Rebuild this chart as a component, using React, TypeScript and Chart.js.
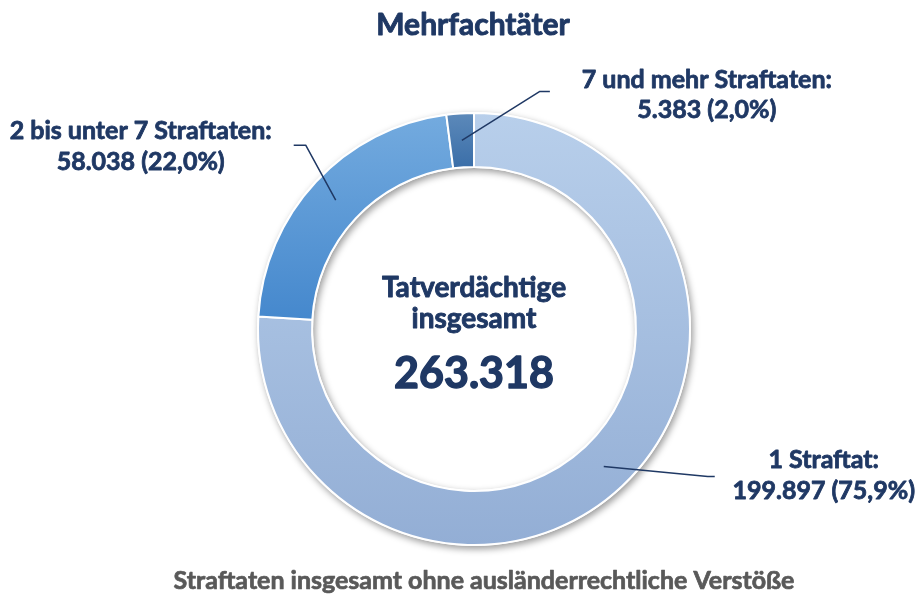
import React, { useEffect, useRef } from "react";
import { Chart, registerables } from "chart.js";

Chart.register(...registerables);

const categories = ["1 Straftat", "2 bis unter 7 Straftaten", "7 und mehr Straftaten"];
const values = [199897, 58038, 5383];
const titleText = "Mehrfachtäter";
const centerLines = ["Tatverdächtige", "insgesamt"];
const footerText = "Straftaten insgesamt ohne ausländerrechtliche Verstöße";

const NAVY = "#1f3864";
const FONT = "Lato, 'Open Sans', sans-serif";
const W = "bold";

// gradient stops per segment (fraction of chart area height, colour)
const gradients: [number, string][][] = [
  [[0, "#b8cfeb"], [1, "#93aed5"]],
  [[0, "#74abdf"], [0.48, "#4588cd"], [1, "#2f6fb0"]],
  [[0, "#5d8aba"], [0.13, "#3a6ea8"], [1, "#244f80"]],
];

// label leader placement relative to arc midpoint
const labelLayout = [
  { elbow: [104, 10], end: [111, 10], text: [220, 2, 33] },
  { elbow: [-30, -55], end: [-42, -55], text: [-195, -61, -30] },
  { elbow: [78, -49], end: [88, -49], text: [245, -52, -22] },
];

const fmt = (v: number) => v.toLocaleString("de-DE");
const pct = (v: number, t: number) => ((v / t) * 100).toFixed(1).replace(".", ",") + "%";

function heavyText(ctx: CanvasRenderingContext2D, s: string, x: number, y: number, color: string, lw: number) {
  ctx.fillStyle = color;
  ctx.strokeStyle = color;
  ctx.lineWidth = lw;
  ctx.lineJoin = "round";
  ctx.strokeText(s, x, y);
  ctx.fillText(s, x, y);
}

const decorPlugin = {
  id: "decor",
  beforeDatasetsDraw(chart: any) {
    const meta = chart.getDatasetMeta(0);
    const a = meta.data[0];
    if (!a) return;
    const { x, y, innerRadius, outerRadius } = a;
    const ctx = chart.ctx;
    ctx.save();
    ctx.shadowColor = "rgba(0,0,0,0.4)";
    ctx.shadowBlur = 7;
    ctx.shadowOffsetX = 2;
    ctx.shadowOffsetY = 3;
    ctx.fillStyle = "#ffffff";
    ctx.beginPath();
    ctx.arc(x, y, outerRadius + 1, 0, Math.PI * 2);
    ctx.arc(x, y, innerRadius - 1, 0, Math.PI * 2, true);
    ctx.fill("evenodd");
    ctx.restore();
  },
  afterDatasetsDraw(chart: any) {
    const ctx = chart.ctx;
    const meta = chart.getDatasetMeta(0);
    const total = values.reduce((s, v) => s + v, 0);
    const a0 = meta.data[0];
    const cx = a0.x;
    const cy = a0.y;
    ctx.save();
    ctx.textAlign = "center";
    ctx.textBaseline = "alphabetic";

    // title
    ctx.font = `${W} 30px ${FONT}`;
    heavyText(ctx, titleText, cx - 1, 35, NAVY, 0.9);

    // center text
    ctx.font = `${W} 28px ${FONT}`;
    heavyText(ctx, centerLines[0], cx, cy - 32, NAVY, 0.9);
    heavyText(ctx, centerLines[1], cx, cy - 1, NAVY, 0.9);
    ctx.font = `${W} 43px ${FONT}`;
    heavyText(ctx, fmt(total), cx, cy + 59, NAVY, 1.4);

    // footer
    ctx.font = `${W} 25px ${FONT}`;
    heavyText(ctx, footerText, cx + 10, 589, "#595959", 0.7);

    // labels
    meta.data.forEach((arc: any, i: number) => {
      const p = arc.getCenterPoint();
      const L = labelLayout[i];
      ctx.strokeStyle = NAVY;
      ctx.lineWidth = 1.5;
      ctx.beginPath();
      ctx.moveTo(p.x, p.y);
      ctx.lineTo(p.x + L.elbow[0], p.y + L.elbow[1]);
      ctx.lineTo(p.x + L.end[0], p.y + L.end[1]);
      ctx.stroke();
      ctx.font = `${W} 25px ${FONT}`;
      heavyText(ctx, categories[i] + ":", p.x + L.text[0], p.y + L.text[1], NAVY, 0.8);
      heavyText(ctx, `${fmt(values[i])} (${pct(values[i], total)})`, p.x + L.text[0], p.y + L.text[2], NAVY, 0.8);
    });
    ctx.restore();
  },
};

export default function App() {
  const ref = useRef<HTMLCanvasElement>(null);
  useEffect(() => {
    if (!ref.current) return;
    const chart = new Chart(ref.current, {
      type: "doughnut",
      data: {
        labels: categories,
        datasets: [
          {
            data: values,
            backgroundColor: (c: any) => {
              const area = c.chart.chartArea;
              if (!area) return "#aaa";
              const g = c.chart.ctx.createLinearGradient(0, area.top, 0, area.bottom);
              gradients[c.dataIndex].forEach(([s, col]) => g.addColorStop(s, col));
              return g;
            },
            borderColor: "#ffffff",
            borderWidth: 2,
          },
        ],
      },
      options: {
        responsive: false,
        animation: false,
        cutout: "75%",
        rotation: 0,
        layout: { padding: { top: 112, bottom: 49, left: 257, right: 224 } },
        plugins: { legend: { display: false }, tooltip: { enabled: false }, title: { display: false } },
      },
      plugins: [decorPlugin],
    });
    return () => chart.destroy();
  }, []);
  return (
    <div style={{ position: "fixed", left: 0, top: 0, width: 915, height: 595, background: "#fff" }}>
      <canvas ref={ref} width={915} height={595} style={{ display: "block" }} />
    </div>
  );
}
